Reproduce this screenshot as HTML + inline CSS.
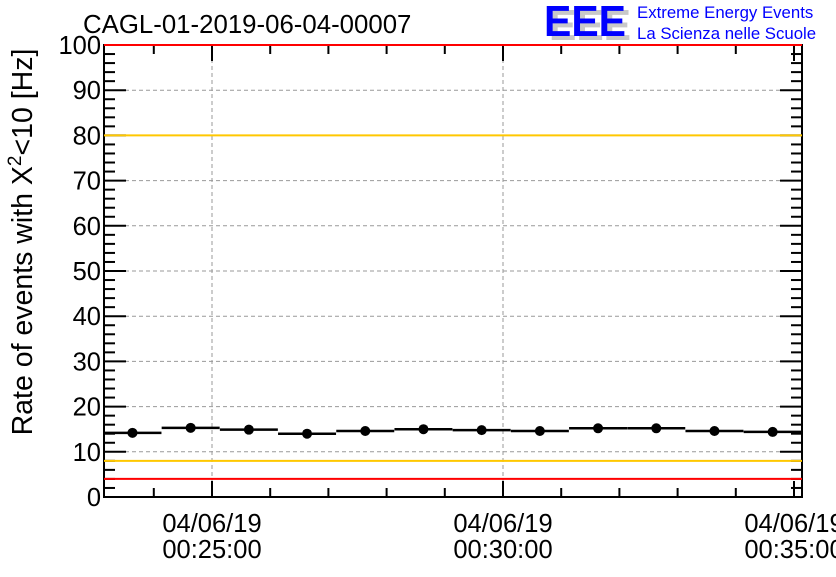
<!DOCTYPE html>
<html><head><meta charset="utf-8"><style>
body{margin:0;background:#fff;width:836px;height:572px;overflow:hidden}
svg{font-family:"Liberation Sans",sans-serif}
</style></head><body>
<svg id="c" width="836" height="572" xmlns="http://www.w3.org/2000/svg">
<text x="83" y="33" font-size="25.8" fill="#000">CAGL-01-2019-06-04-00007</text>
<g>
<text x="549" y="40" font-size="44" font-weight="bold" fill="#c8c8c8" textLength="82" lengthAdjust="spacingAndGlyphs">EEE</text>
<text x="544" y="36" font-size="44" font-weight="bold" fill="#0000ff" textLength="82" lengthAdjust="spacingAndGlyphs">EEE</text>
<text x="637" y="18" font-size="16.8" fill="#0000ff">Extreme Energy Events</text>
<text x="637" y="39" font-size="16.8" fill="#0000ff">La Scienza nelle Scuole</text>
</g>
<text transform="translate(32,242) rotate(-90)" text-anchor="middle" font-size="28.5">Rate of events with X<tspan dy="-11" font-size="19">2</tspan><tspan dy="11">&lt;10 [Hz]</tspan></text>
<g id="grid"></g><g id="axes"></g><g id="lines"></g><g id="marks"></g>
</svg>
<script>
const times=["00:23:38","00:24:38","00:25:38","00:26:38","00:27:38","00:28:38","00:29:38","00:30:38","00:31:38","00:32:38","00:33:38","00:34:38"];
const rates=[14.2,15.3,14.9,14.0,14.6,15.0,14.8,14.6,15.2,15.2,14.6,14.4];
const yTicks=[0,10,20,30,40,50,60,70,80,90,100];
const xTickLabels=["00:25:00","00:30:00","00:35:00"];
const xDateLabel="04/06/19";
const refLines=[{v:100,c:"#ff0000",n:"upper-red-limit"},{v:80,c:"#ffc800",n:"upper-yellow-limit"},{v:8,c:"#ffc800",n:"lower-yellow-limit"},{v:4,c:"#ff0000",n:"lower-red-limit"}];
const L=104,R=802,T=45,B=497;
const NS="http://www.w3.org/2000/svg";
function sec(t){const p=t.split(":").map(Number);return p[0]*3600+p[1]*60+p[2];}
const t0=sec("00:25:00"),pxPerSec=58.2/60;
function X(t){return 212+(sec(t)-t0)*pxPerSec;}
function Xs(s){return 212+(s-t0)*pxPerSec;}
function Y(v){return B-(v/100)*(B-T);}
function mk(tag,at,parent){const e=document.createElementNS(NS,tag);for(const k in at)e.setAttribute(k,at[k]);document.getElementById(parent).appendChild(e);return e;}
yTicks.forEach(v=>{if(v>0&&v<100){const g=mk("line",{x1:L,x2:R,y1:Y(v),y2:Y(v),stroke:"#999","stroke-dasharray":"4,3","stroke-width":1},"grid");

}});
xTickLabels.forEach(t=>{const x=X(t);if(x<R-10){const g=mk("line",{x1:x,x2:x,y1:T,y2:B,stroke:"#999","stroke-dasharray":"4,3","stroke-width":1},"grid");

}});
const fr=mk("rect",{x:L,y:T,width:R-L,height:B-T,fill:"none",stroke:"#000","stroke-width":2},"axes");


for(let v=0;v<=100;v+=2){const major=v%10===0;const len=major?22:11;
mk("line",{x1:L,x2:L+len,y1:Y(v),y2:Y(v),stroke:"#000","stroke-width":2},"axes");
mk("line",{x1:R-len,x2:R,y1:Y(v),y2:Y(v),stroke:"#000","stroke-width":2},"axes");}
yTicks.forEach(v=>{const t=mk("text",{x:L-3,y:Y(v)+9,"text-anchor":"end","font-size":25.5},"axes");t.textContent=v;

});
for(let s=sec("00:23:00");s<=sec("00:35:00");s+=60){const x=Xs(s);if(x<L||x>R+1)continue;const major=(s-t0)%300===0;const len=major?16:9;
mk("line",{x1:x,x2:x,y1:B,y2:B-len,stroke:"#000","stroke-width":2},"axes");
mk("line",{x1:x,x2:x,y1:T,y2:T+len,stroke:"#000","stroke-width":2},"axes");}
xTickLabels.forEach(l=>{const x=X(l);
const a=mk("text",{x:x,y:532,"text-anchor":"middle","font-size":25.5},"axes");a.textContent=xDateLabel;


const b=mk("text",{x:x,y:558,"text-anchor":"middle","font-size":25.5},"axes");b.textContent=l;

});
refLines.forEach(r=>{const l=mk("line",{x1:L,x2:R,y1:Y(r.v),y2:Y(r.v),stroke:r.c,"stroke-width":2},"lines");

});
times.forEach((t,i)=>{const x=X(t),y=Y(rates[i]);
const e=mk("line",{x1:x-29,x2:x+29,y1:y,y2:y,stroke:"#000","stroke-width":2.5},"marks");


const c=mk("circle",{cx:x,cy:y,r:5,fill:"#000"},"marks");

});
</script>
</body></html>
